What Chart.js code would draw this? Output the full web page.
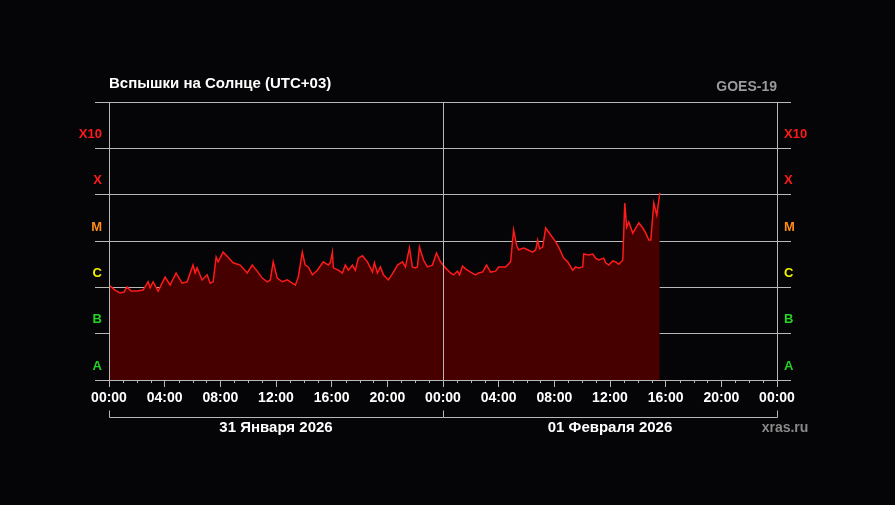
<!DOCTYPE html>
<html>
<head>
<meta charset="utf-8">
<script src="https://cdn.jsdelivr.net/npm/chart.js@4.4.1/dist/chart.umd.min.js"></script>
<style>
  html, body { margin: 0; padding: 0; background: #050507; }
  canvas { display: block; }
</style>
</head>
<body>
<canvas id="flares" width="895" height="505"></canvas>
<script>
// hours since 31 Jan 2026 00:00 (UTC+03)
const hours = [
  0.07, 0.43, 0.79, 1.08, 1.30, 1.58, 2.01, 2.45, 2.81, 2.95,
  3.17, 3.53, 4.03, 4.39, 4.82, 5.25, 5.61, 6.04, 6.19, 6.33,
  6.69, 7.05, 7.27, 7.48, 7.70, 7.84, 8.20, 8.56, 8.92, 9.43,
  9.93, 10.29, 10.65, 11.01, 11.37, 11.59, 11.80, 12.09, 12.45, 12.81,
  13.17, 13.39, 13.60, 13.89, 14.10, 14.32, 14.61, 14.97, 15.40, 15.76,
  15.90, 16.05, 16.12, 16.48, 16.77, 16.98, 17.20, 17.49, 17.70, 17.92,
  18.21, 18.57, 18.93, 19.07, 19.29, 19.50, 19.72, 20.08, 20.44, 20.73,
  21.09, 21.30, 21.59, 21.80, 22.02, 22.16, 22.31, 22.60, 22.88, 23.24,
  23.53, 23.82, 24.18, 24.54, 24.76, 25.04, 25.19, 25.40, 25.62, 25.98,
  26.34, 26.55, 26.84, 27.13, 27.42, 27.78, 27.99, 28.50, 28.86, 29.07,
  29.29, 29.43, 29.79, 30.08, 30.44, 30.66, 30.80, 30.94, 31.16, 31.38,
  31.74, 32.10, 32.31, 32.67, 32.96, 33.32, 33.53, 33.75, 34.04, 34.11,
  34.47, 34.76, 34.97, 35.19, 35.55, 35.69, 35.91, 36.20, 36.41, 36.63,
  36.92, 37.06, 37.20, 37.35, 37.64, 37.85, 38.07, 38.36, 38.57, 38.79,
  38.93, 39.15, 39.36, 39.58
];
// log10 of X-ray flux, W/m^2
const fluxLog = [
  -5.97, -6.06, -6.12, -6.10, -5.99, -6.08, -6.08, -6.06, -5.88, -6.01,
  -5.88, -6.08, -5.78, -5.95, -5.69, -5.91, -5.88, -5.52, -5.69, -5.58,
  -5.84, -5.73, -5.91, -5.88, -5.35, -5.45, -5.24, -5.35, -5.47, -5.52,
  -5.69, -5.52, -5.65, -5.80, -5.88, -5.84, -5.45, -5.80, -5.88, -5.84,
  -5.91, -5.95, -5.78, -5.24, -5.52, -5.56, -5.73, -5.63, -5.45, -5.52,
  -5.47, -5.24, -5.58, -5.63, -5.69, -5.52, -5.63, -5.52, -5.63, -5.37,
  -5.32, -5.45, -5.67, -5.47, -5.69, -5.56, -5.73, -5.84, -5.67, -5.52,
  -5.45, -5.56, -5.15, -5.56, -5.58, -5.56, -5.13, -5.41, -5.56, -5.52,
  -5.26, -5.45, -5.58, -5.69, -5.73, -5.65, -5.73, -5.54, -5.60, -5.67,
  -5.73, -5.69, -5.67, -5.52, -5.67, -5.65, -5.56, -5.56, -5.45, -4.76,
  -5.09, -5.19, -5.15, -5.19, -5.24, -5.19, -4.98, -5.17, -5.13, -4.72,
  -4.87, -5.02, -5.13, -5.37, -5.45, -5.63, -5.56, -5.58, -5.56, -5.28,
  -5.30, -5.28, -5.37, -5.41, -5.37, -5.47, -5.52, -5.43, -5.45, -5.50,
  -5.41, -4.18, -4.70, -4.59, -4.83, -4.72, -4.61, -4.72, -4.83, -4.98,
  -4.98, -4.18, -4.44, -3.96
];
const classLabels = ['A', 'B', 'C', 'M', 'X', 'X10', ''];
const classColors = ['#22d322', '#22d322', '#f2f200', '#ff8c1a', '#ff1a1a', '#ff1a1a', '#ff1a1a'];
const dayLabels = ['31 Января 2026', '01 Февраля 2026'];

const GRID = '#b8b8b8';
const FONT = 'Liberation Sans, Arial, sans-serif';

const yAxis = (position, width, onArea) => ({
  position,
  min: -8,
  max: -2,
  afterFit: s => { s.width = width; },
  border: { display: true, color: GRID },
  grid: { color: GRID, tickLength: 14, drawOnChartArea: onArea },
  ticks: {
    stepSize: 1,
    padding: -7,
    labelOffset: -14,
    color: c => classColors[Math.round(c.tick.value + 8)],
    font: { family: FONT, size: 13, weight: 'bold' },
    callback: v => classLabels[Math.round(v + 8)]
  }
});

const decor = {
  id: 'decor',
  afterDatasetsDraw(chart) {
    const { ctx, chartArea: a, scales: { x } } = chart;
    const mx = Math.round(x.getPixelForValue(24)) + 0.5;
    ctx.save();
    ctx.strokeStyle = GRID;
    ctx.lineWidth = 1;
    ctx.beginPath();
    ctx.moveTo(mx, a.top);
    ctx.lineTo(mx, a.bottom);
    ctx.stroke();
    ctx.restore();
  },
  afterDraw(chart) {
    const { ctx, chartArea: a, scales: { x } } = chart;
    ctx.save();
    ctx.strokeStyle = GRID;
    ctx.lineWidth = 1;
    // hourly minor ticks
    ctx.beginPath();
    for (let h = 1; h < 48; h++) {
      if (h % 4 === 0) continue;
      const px = Math.round(x.getPixelForValue(h)) + 0.5;
      ctx.moveTo(px, a.bottom);
      ctx.lineTo(px, a.bottom + 3);
    }
    // day brackets
    const by = 417.5;
    const x0 = Math.round(x.getPixelForValue(0)) + 0.5;
    const x1 = Math.round(x.getPixelForValue(24)) + 0.5;
    const x2 = Math.round(x.getPixelForValue(48)) + 0.5;
    ctx.moveTo(x0, by); ctx.lineTo(x2, by);
    [x0, x1, x2].forEach(px => { ctx.moveTo(px, by - 7); ctx.lineTo(px, by); });
    ctx.stroke();

    ctx.textBaseline = 'middle';
    ctx.font = 'bold 15px ' + FONT;
    ctx.fillStyle = '#ffffff';
    ctx.textAlign = 'center';
    ctx.fillText(dayLabels[0], x.getPixelForValue(12), 428);
    ctx.fillText(dayLabels[1], x.getPixelForValue(36), 428);

    ctx.textAlign = 'left';
    ctx.fillText('Вспышки на Солнце (UTC+03)', a.left, 84);

    ctx.font = 'bold 14px ' + FONT;
    ctx.fillStyle = '#9a9a9a';
    ctx.textAlign = 'right';
    ctx.fillText('GOES-19', a.right, 87);
    ctx.fillStyle = '#8a8a8a';
    ctx.textAlign = 'center';
    ctx.fillText('xras.ru', 785, 428);
    ctx.restore();
  }
};

new Chart(document.getElementById('flares'), {
  type: 'line',
  data: {
    datasets: [{
      data: hours.map((h, i) => ({ x: h, y: fluxLog[i] })),
      borderColor: '#ff1a1a',
      backgroundColor: '#460000',
      borderWidth: 1.5,
      pointRadius: 0,
      tension: 0,
      fill: 'start',
      yAxisID: 'y'
    }]
  },
  options: {
    responsive: false,
    animation: false,
    layout: { padding: { top: 102, bottom: 95, left: 0, right: 0 } },
    plugins: { legend: { display: false }, tooltip: { enabled: false } },
    scales: {
      x: {
        type: 'linear',
        min: 0,
        max: 48,
        afterFit: s => { s.height = 30; },
        border: { color: GRID },
        grid: { drawOnChartArea: false, tickLength: 7, color: GRID },
        ticks: {
          stepSize: 4,
          autoSkip: false,
          maxRotation: 0,
          padding: 3,
          color: '#ffffff',
          font: { family: FONT, size: 14, weight: 'bold' },
          callback: v => String(v % 24).padStart(2, '0') + ':00'
        }
      },
      y: yAxis('left', 109, true),
      y2: yAxis('right', 118, false)
    }
  },
  plugins: [decor]
});
</script>
</body>
</html>
